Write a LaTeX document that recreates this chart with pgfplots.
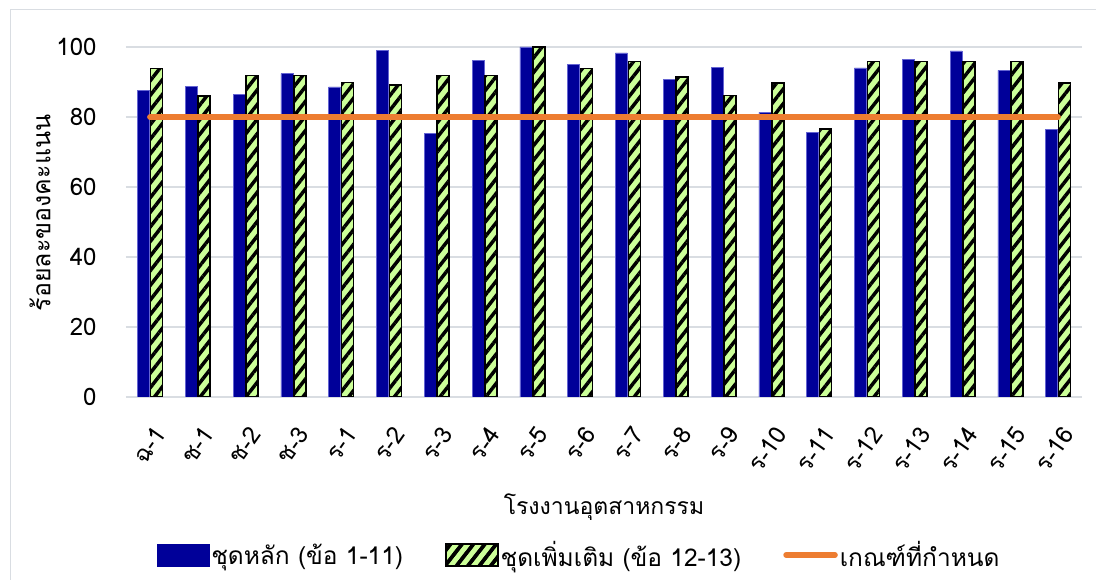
\documentclass[border=0pt]{standalone}
\usepackage{fontspec}
\setmainfont[Script=Thai]{Loma}
\usepackage{pgfplots}
\pgfplotsset{compat=1.18}
\usetikzlibrary{patterns.meta}

\definecolor{mainblue}{RGB}{0,0,153}
\definecolor{blueedge}{RGB}{100,100,210}
\definecolor{lightgreen}{RGB}{204,255,153}
\definecolor{critorange}{RGB}{237,125,49}
\definecolor{gridgray}{RGB}{217,221,226}

\pgfplotstableread{
x main extra
0  87.5 93.8
1  88.8 86.0
2  86.5 91.8
3  92.4 91.8
4  88.6 89.8
5  99.1 89.2
6  75.3 91.8
7  96.2 91.8
8  100  100
9  95.0 93.8
10 98.3 95.9
11 90.7 91.4
12 94.2 86.1
13 81.3 89.7
14 75.6 76.6
15 94.0 95.9
16 96.5 95.9
17 98.9 95.9
18 93.3 95.9
19 76.5 89.7
}\scores

\pgfplotstableread{
x crit
0  80
19 80
}\criterion

\begin{document}
\begin{tikzpicture}[x=1pt,y=1pt]
\useasboundingbox (0,0) rectangle (1096,580);
% chart area border (left and top edges)
\draw[gridgray, line width=1pt] (10,-5) -- (10,570) -- (1101,570);
\begin{axis}[
  at={(126pt,183pt)}, anchor=south west,
  scale only axis, width=956pt, height=350pt,
  xmin=-0.5, xmax=19.5, ymin=0, ymax=100,
  ytick={0,20,40,60,80,100},
  xtick={0,...,19},
  xticklabels={ฉ-1,ช-1,ช-2,ช-3,ร-1,ร-2,ร-3,ร-4,ร-5,ร-6,ร-7,ร-8,ร-9,ร-10,ร-11,ร-12,ร-13,ร-14,ร-15,ร-16},
  axis line style={draw=none},
  major tick length=0pt,
  ymajorgrids, grid style={gridgray, line width=1.2pt},
  font=\fontsize{24}{28}\selectfont,
  /pgf/number format/assume math mode=true,
  yticklabel style={anchor=east, xshift=-26pt},
  xticklabel style={anchor=east, xshift=12pt, yshift=-30pt, rotate=55},
  xlabel={โรงงานอุตสาหกรรม},
  ylabel={ร้อยละของคะแนน},
  every axis x label/.style={at={(rel axis cs:0.5,0)}, yshift=-110pt, anchor=center,
    font=\fontsize{23}{27}\selectfont},
  every axis y label/.style={at={(rel axis cs:0,0.526)}, xshift=-86pt, rotate=90, anchor=center,
    font=\fontsize{25}{29}\selectfont},
  legend columns=3,
  legend style={at={(rel axis cs:0.474,0)}, yshift=-158pt, anchor=center, draw=none, fill=none,
    font=\fontsize{24.5}{28}\selectfont,
    /tikz/every even column/.append style={column sep=40pt}},
  legend cell align=left,
]
\addplot[ybar, bar width=12pt, bar shift=-6.5pt, fill=mainblue, draw=blueedge, line width=0.6pt,
  legend image code/.code={\fill[mainblue] (0pt,-11pt) rectangle (52pt,11pt);}]
  table[x=x, y=main] {\scores};
\addlegendentry{ชุดหลัก (ข้อ 1-11)}
\addplot[ybar, bar width=12pt, bar shift=6.5pt, fill=lightgreen, draw=black, line width=1.6pt,
  postaction={pattern={Lines[angle=52,distance=9pt,line width=3.5pt]}, pattern color=black},
  legend image code/.code={\draw[fill=lightgreen, draw=black, line width=1.6pt,
    postaction={pattern={Lines[angle=52,distance=9pt,line width=3.5pt]}, pattern color=black}]
    (0pt,-11pt) rectangle (52pt,11pt);}]
  table[x=x, y=extra] {\scores};
\addlegendentry{ชุดเพิ่มเติม (ข้อ 12-13)}
\addplot[critorange, line width=5.5pt, line cap=round, mark=none,
  legend image code/.code={\draw[critorange, line width=5.5pt, line cap=round] (3pt,0pt) -- (52pt,0pt);}]
  table[x=x, y=crit] {\criterion};
\addlegendentry{เกณฑ์ที่กำหนด}
\end{axis}
\end{tikzpicture}
\end{document}
